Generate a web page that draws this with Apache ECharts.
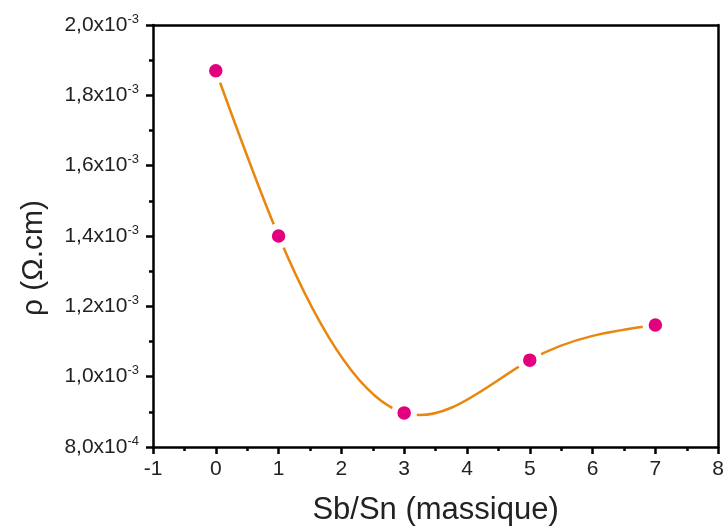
<!DOCTYPE html>
<html>
<head>
<meta charset="utf-8">
<script src="https://cdn.jsdelivr.net/npm/echarts@6/dist/echarts.min.js"></script>
<style>
  html, body { margin: 0; padding: 0; background: #fff; }
  #chart { width: 727px; height: 531px; }
</style>
</head>
<body>
<div id="chart"></div>
<script>
// ---- data ----
const sbSnRatio = [0, 1, 3, 5, 7];
const resistivity = [1.87e-3, 1.40e-3, 0.897e-3, 1.047e-3, 1.147e-3];
const xTitle = 'Sb/Sn (massique)';
const yTitle = 'ρ (Ω.cm)';
const xRange = [-1, 8];
const yRange = [8e-4, 2e-3];

const points = sbSnRatio.map((x, i) => [x, resistivity[i]]);

function sciLabel(v) {
  const e = Math.floor(Math.log10(v) + 1e-9);
  const m = (v / Math.pow(10, e)).toFixed(1).replace('.', ',');
  return '{m|' + m + 'x10}{e|' + e + '}';
}

// Natural cubic spline through pixel points, expressed as Bezier segments
function splinePath(px) {
  const n = px.length;
  const xs = px.map(p => p[0]), ys = px.map(p => p[1]);
  const h = [];
  for (let i = 0; i < n - 1; i++) h.push(xs[i + 1] - xs[i]);
  const M = new Array(n).fill(0);
  if (n > 2) {
    const a = [], b = [], c = [], d = [];
    for (let i = 1; i < n - 1; i++) {
      a.push(h[i - 1]);
      b.push(2 * (h[i - 1] + h[i]));
      c.push(h[i]);
      d.push(6 * ((ys[i + 1] - ys[i]) / h[i] - (ys[i] - ys[i - 1]) / h[i - 1]));
    }
    const m = b.length;
    for (let i = 1; i < m; i++) {
      const w = a[i] / b[i - 1];
      b[i] -= w * c[i - 1];
      d[i] -= w * d[i - 1];
    }
    const sol = new Array(m);
    sol[m - 1] = d[m - 1] / b[m - 1];
    for (let i = m - 2; i >= 0; i--) sol[i] = (d[i] - c[i] * sol[i + 1]) / b[i];
    for (let i = 0; i < m; i++) M[i + 1] = sol[i];
  }
  let path = 'M' + xs[0] + ' ' + ys[0];
  for (let i = 0; i < n - 1; i++) {
    const sl = (ys[i + 1] - ys[i]) / h[i];
    const s0 = sl - h[i] * (2 * M[i] + M[i + 1]) / 6;
    const s1 = sl + h[i] * (M[i] + 2 * M[i + 1]) / 6;
    const c1x = xs[i] + h[i] / 3, c1y = ys[i] + s0 * h[i] / 3;
    const c2x = xs[i + 1] - h[i] / 3, c2y = ys[i + 1] - s1 * h[i] / 3;
    path += ' C' + c1x + ' ' + c1y + ' ' + c2x + ' ' + c2y + ' ' + xs[i + 1] + ' ' + ys[i + 1];
  }
  return path;
}

const chart = echarts.init(document.getElementById('chart'), null, { renderer: 'canvas' });
const font = 'Liberation Sans, Arial, sans-serif';
const lineBlack = { color: '#000', width: 2.5 };
chart.setOption({
  animation: false,
  backgroundColor: '#fff',
  grid: { left: 153, right: 5, top: 25, bottom: 84 },
  xAxis: [{
    type: 'value', min: xRange[0], max: xRange[1], interval: 1,
    name: xTitle, nameLocation: 'middle', nameGap: 48,
    nameTextStyle: { fontFamily: font, fontSize: 31, color: '#222' },
    axisLine: { show: true, onZero: false, lineStyle: lineBlack },
    axisTick: { show: true, inside: false, length: 7, lineStyle: lineBlack },
    minorTick: { show: true, splitNumber: 2, length: 4, lineStyle: lineBlack },
    splitLine: { show: false },
    axisLabel: { fontFamily: font, fontSize: 21, color: '#222', margin: 12 }
  }, {
    type: 'value', position: 'top', min: xRange[0], max: xRange[1], interval: 1,
    axisLine: { show: true, onZero: false, lineStyle: lineBlack },
    axisTick: { show: false }, axisLabel: { show: false }, splitLine: { show: false }
  }],
  yAxis: [{
    type: 'value', min: yRange[0], max: yRange[1], interval: 2e-4,
    name: yTitle, nameLocation: 'middle', nameGap: 104, nameRotate: 90,
    nameTextStyle: { fontFamily: font, fontSize: 30, color: '#222', padding: [0, 44, 0, 0] },
    axisLine: { show: true, onZero: false, lineStyle: lineBlack },
    axisTick: { show: true, inside: false, length: 7, lineStyle: lineBlack },
    minorTick: { show: true, splitNumber: 2, length: 4, lineStyle: lineBlack },
    splitLine: { show: false },
    axisLabel: {
      margin: 14,
      formatter: sciLabel,
      rich: {
        m: { fontFamily: font, fontSize: 21, color: '#222' },
        e: { fontFamily: font, fontSize: 13, color: '#222', padding: [0, 0, 12, 0] }
      }
    }
  }, {
    type: 'value', position: 'right', min: yRange[0], max: yRange[1], interval: 2e-4,
    axisLine: { show: true, onZero: false, lineStyle: lineBlack },
    axisTick: { show: false }, axisLabel: { show: false }, splitLine: { show: false }
  }],
  series: [{
    type: 'custom',
    data: points,
    encode: { x: 0, y: 1 },
    silent: true,
    z: 2,
    renderItem: function (params, api) {
      if (params.dataIndex !== 0) return null;
      const px = points.map(p => api.coord(p));
      return {
        type: 'path',
        shape: { pathData: splinePath(px) },
        style: { fill: 'none', stroke: '#e8870e', lineWidth: 2.5 }
      };
    }
  }, {
    type: 'scatter',
    data: points,
    symbol: 'circle',
    symbolSize: 19.5,
    itemStyle: { color: '#e2007f', borderColor: '#fff', borderWidth: 6, opacity: 1 },
    z: 3
  }]
});
</script>
</body>
</html>
